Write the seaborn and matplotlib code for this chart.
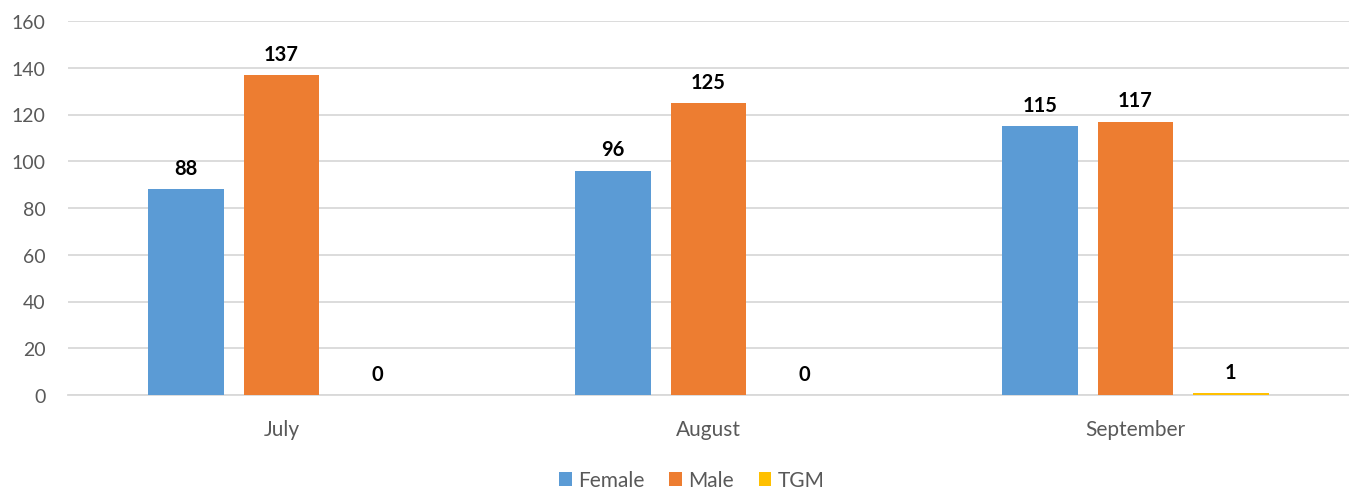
import matplotlib.pyplot as plt
import seaborn as sns
import pandas as pd

# Datos del gráfico
meses = ['July', 'August', 'September']
generos = ['Female', 'Male', 'TGM']
female = [88, 96, 115]
male = [137, 125, 117]
tgm = [0, 0, 1]
colores = ['#5B9BD5', '#ED7D31', '#FFC000']

df = pd.DataFrame({
    'mes': meses * 3,
    'genero': ['Female'] * 3 + ['Male'] * 3 + ['TGM'] * 3,
    'valor': female + male + tgm,
})

sns.set_theme(style='white')
plt.rcParams['font.family'] = ['Lato', 'DejaVu Sans']

fig = plt.figure(figsize=(13.49, 4.89), dpi=100)
ax = fig.add_axes([68 / 1349, 1 - 396 / 489, 1 - 68 / 1349, (396 - 22) / 489])

sns.barplot(data=df, x='mes', y='valor', hue='genero', hue_order=generos,
            order=meses, palette=colores, width=0.67, gap=0.21,
            saturation=1, linewidth=0, ax=ax, legend=True, zorder=3)

# Etiquetas de valores
for cont in ax.containers:
    for barra in cont:
        h = barra.get_height()
        ax.annotate(f'{h:.0f}', (barra.get_x() + barra.get_width() / 2, h),
                    xytext=(0, 8), textcoords='offset points',
                    ha='center', va='bottom', fontsize=14.5, fontweight='bold',
                    color='black')

ax.set_ylim(0, 160)
ax.set_yticks(range(0, 161, 20))
ax.set_xlim(-0.5, 2.5)
ax.set_xlabel('')
ax.set_ylabel('')
ax.yaxis.grid(True, color='#D9D9D9', linewidth=1.3, zorder=0)
ax.set_axisbelow(True)
for lado in ['top', 'right', 'left']:
    ax.spines[lado].set_visible(False)
ax.spines['bottom'].set_color('#D9D9D9')
ax.spines['bottom'].set_linewidth(1.3)
ax.spines['bottom'].set_zorder(1)
ax.tick_params(axis='both', length=0, colors='#595959')
ax.tick_params(axis='x', pad=17, labelsize=15)
ax.tick_params(axis='y', pad=16, labelsize=14)

handles, labels = ax.get_legend_handles_labels()
ax.legend(handles, labels, loc='lower center', bbox_to_anchor=(0.487, -0.305),
          ncol=3, frameon=False, fontsize=15, handlelength=0.6,
          handleheight=0.6, handletextpad=0.3, columnspacing=1.2,
          labelcolor='#595959')

plt.savefig('out.png', dpi=100)
plt.close()
